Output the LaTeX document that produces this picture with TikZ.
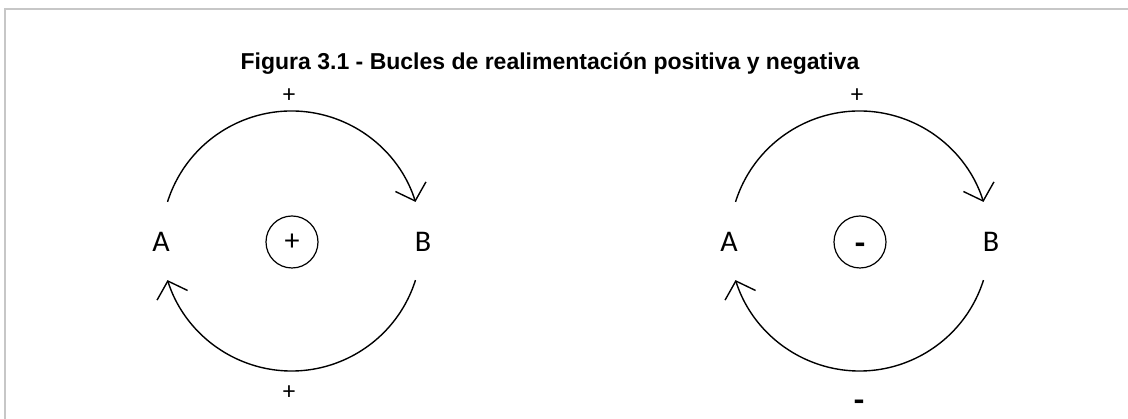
\documentclass[tikz,border=0pt]{standalone}
\usepackage{fontspec}
\setmainfont{Carlito}
\newfontfamily\titlefont{Liberation Sans}
\usetikzlibrary{arrows.meta}
\begin{document}
\begin{tikzpicture}[x=1pt,y=1pt,
  frame/.style={draw=black!22,line width=2pt},
  loopline/.style={line width=1.4pt,-{Straight Barb[length=15pt,width=32pt,line width=1.4pt]}},
  varlabel/.style={font=\fontsize{30}{32}\selectfont,inner sep=0pt,anchor=base},
  signlabel/.style={font=\fontsize{25}{27}\selectfont,inner sep=0pt},
  minuslabel/.style={font=\bfseries\fontsize{34}{36}\selectfont,inner sep=0pt,anchor=base},
  loopsign/.style={draw,circle,line width=1.2pt,minimum size=52pt,inner sep=0pt,font=\fontsize{30}{32}\selectfont}]
\useasboundingbox (0,0) rectangle (1128,419);
\coordinate (fl) at (5,0);
\coordinate (fc) at (5,410);
\coordinate (fr) at (1128,410);
\draw[frame] (fl) -- (fc) -- (fr);
\node[font=\titlefont\bfseries\fontsize{23}{26}\selectfont,inner sep=0pt,anchor=base] (title) at (550,349) {Figura 3.1 - Bucles de realimentación positiva y negativa};
% left loop
\coordinate (c1) at (291.5,178);
\node[varlabel] (A1) at (161,167) {A};
\node[varlabel] (B1) at (423,167) {B};
\node[loopsign] (s1) at (292,177) {+};
\draw[loopline] (c1) ++(162.5:130) arc[start angle=162.5,end angle=17.5,radius=130];
\draw[loopline] (c1) ++(-17.5:130) arc[start angle=-17.5,end angle=-162.5,radius=130];
\node[signlabel] (t1) at (289,323) {+};
\node[signlabel] (b1) at (289,26) {+};
% right loop
\coordinate (c2) at (859.5,178);
\node[varlabel] (A2) at (729,167) {A};
\node[varlabel] (B2) at (991,167) {B};
\node[draw,circle,line width=1.2pt,minimum size=52pt,inner sep=0pt] (s2) at (860,177) {};
\node[minuslabel] (m2) at (860,164) {-};
\draw[loopline] (c2) ++(162.5:130) arc[start angle=162.5,end angle=17.5,radius=130];
\draw[loopline] (c2) ++(-17.5:130) arc[start angle=-17.5,end angle=-162.5,radius=130];
\node[signlabel] (t2) at (857,323) {+};
\node[minuslabel] (b2) at (859,7) {-};
\end{tikzpicture}
\end{document}
